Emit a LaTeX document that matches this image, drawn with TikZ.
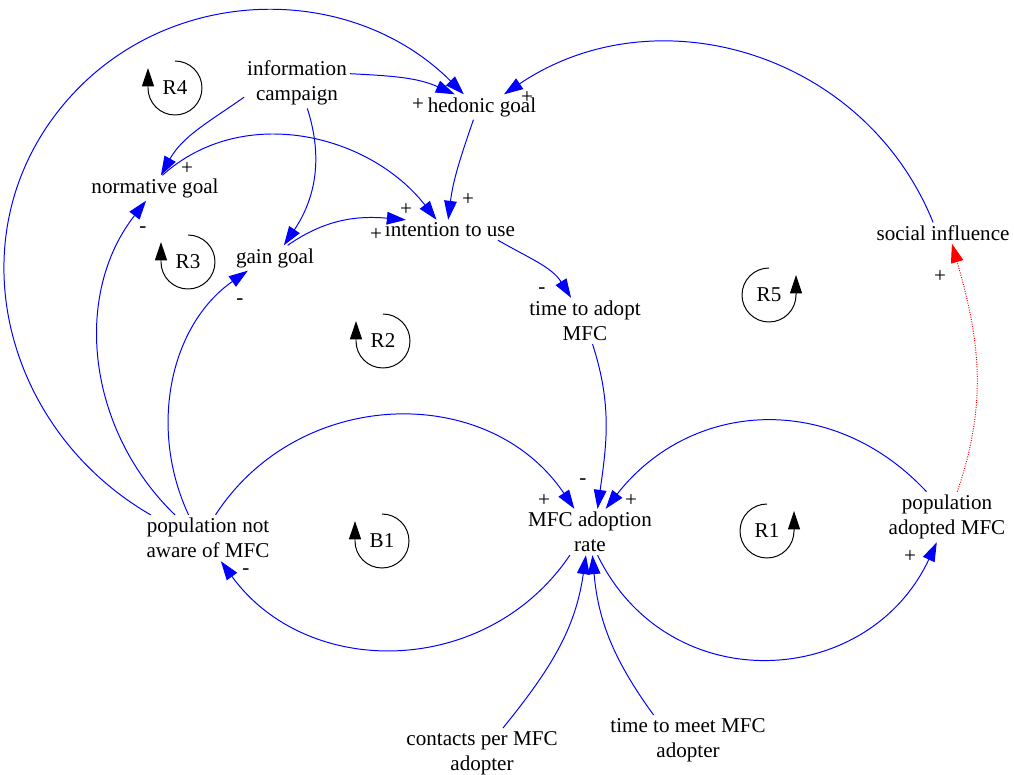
\documentclass[tikz,border=0pt]{standalone}
\usepackage{fontspec}
\setmainfont{Liberation Serif}
\usetikzlibrary{arrows.meta}

\begin{document}
\begin{tikzpicture}[font=\fontsize{15}{18}\selectfont,
  var/.style={align=center,inner sep=2pt},
  sgn/.style={inner sep=0pt},
  link/.style={blue,line width=0.7pt,-{Triangle[length=13.5pt,width=9pt]}},
  infl/.style={red,line width=0.7pt,densely dotted,-{Triangle[length=13.5pt,width=9pt]}},
  loopmark/.style={line width=0.7pt,-{Triangle[length=13pt,width=8.5pt]}}]

  \useasboundingbox (0,0) rectangle (25.35,-19.375);

  % variables
  \node[var] (info) at (7.425,-2.075) {information\\campaign};
  \node[var] (hed) at (12.05,-2.675) {hedonic goal};
  \node[var] (norm) at (3.875,-4.7) {normative goal};
  \node[var] (gain) at (6.875,-6.45) {gain goal};
  \node[var] (intent) at (11.25,-5.75) {intention to use};
  \node[var] (tadopt) at (14.625,-8.025) {time to adopt\\MFC};
  \node[var] (social) at (23.575,-5.825) {social influence};
  \node[var] (rate) at (14.75,-13.3) {MFC adoption\\rate};
  \node[var] (pna) at (5.2,-13.45) {population not\\aware of MFC};
  \node[var] (padopt) at (23.675,-12.925) {population\\adopted MFC};
  \node[var] (contacts) at (12.05,-18.825) {contacts per MFC\\adopter};
  \node[var] (tmeet) at (17.2,-18.5) {time to meet MFC\\adopter};
  \coordinate (outer) at (1.4,-2.85); % far point of the big R4 arc

  % links
  \path[link] (info.10) edge[out=-3,in=156] (hed.155);
  \path[link] (info.195) edge[out=215,in=61] (norm.65);
  \path[link] (info.-68) edge[out=-72,in=56] (gain.55);
  \path[link] (norm.60) edge[out=42,in=128] (intent.143);
  \path[link] (gain.45) edge[out=35,in=175] (intent.167);
  \path[link] (hed.236) edge[out=251,in=83] (intent.100);
  \draw[link] (pna.158) to[out=150,in=232.7,looseness=1.03] (outer)
    to[out=52.7,in=135,looseness=1.03] (hed.145);
  \path[link] (social.133) edge[out=112,in=34,looseness=1.05] (hed.30);
  \path[link] (pna.145) edge[out=136,in=232,looseness=0.98] (norm.235);
  \path[link] (pna.130) edge[out=115,in=215,looseness=0.97] (gain.205);
  \path[link] (pna.72) edge[out=57,in=124,looseness=1.09] (rate.124);
  \path[link] (tadopt.-72) edge[out=-72,in=82] (rate.72);
  \path[link] (padopt.129) edge[out=133,in=52,looseness=1.1] (rate.56);
  \path[link] (rate.229) edge[out=236,in=-54,looseness=1.08] (pna.-61);
  \path[link] (rate.-72) edge[out=-64,in=245,looseness=1.22] (padopt.248);
  \path[link] (contacts.50) edge[out=51,in=262] (rate.260);
  \path[link] (tmeet.144) edge[out=126,in=275] (rate.-84);
  \path[link] (intent.-12) edge[out=-30,in=122] (tadopt.121);
  \path[infl] (padopt.68) edge[out=71,in=286] (social.-50);

  % polarities
  \node[sgn] (hedplusA) at (10.45,-2.625) {+};
  \node[sgn] (hedplusB) at (13.175,-2.45) {+};
  \node[sgn] (normplus) at (4.675,-4.225) {+};
  \node[sgn] (normminus) at (3.575,-5.75) {-};
  \node[sgn] (gainminus) at (6.0,-7.55) {-};
  \node[sgn] (intplusA) at (10.15,-5.25) {+};
  \node[sgn] (intplusB) at (11.7,-5.0) {+};
  \node[sgn] (intplusC) at (9.4,-5.875) {+};
  \node[sgn] (tadminus) at (13.55,-7.275) {-};
  \node[sgn] (rateminus) at (14.575,-12.05) {-};
  \node[sgn] (rateplusA) at (13.6,-12.525) {+};
  \node[sgn] (rateplusB) at (15.775,-12.525) {+};
  \node[sgn] (pnaminus) at (6.15,-14.3) {-};
  \node[sgn] (padplus) at (22.75,-13.925) {+};
  \node[sgn] (socplus) at (23.5,-6.925) {+};

  % loop markers
  \node (r4) at (4.375,-2.2) {R4};
  \draw[loopmark] (r4.center) ++(0,0.675) arc[start angle=90,end angle=-180,radius=0.675] -- ++(0,0.5);
  \node (r3) at (4.7,-6.55) {R3};
  \draw[loopmark] (r3.center) ++(0,0.675) arc[start angle=90,end angle=-180,radius=0.675] -- ++(0,0.5);
  \node (r2) at (9.575,-8.525) {R2};
  \draw[loopmark] (r2.center) ++(0,0.675) arc[start angle=90,end angle=-180,radius=0.675] -- ++(0,0.5);
  \node (b1) at (9.55,-13.525) {B1};
  \draw[loopmark] (b1.center) ++(0,0.675) arc[start angle=90,end angle=-180,radius=0.675] -- ++(0,0.5);
  \node (r1) at (19.175,-13.275) {R1};
  \draw[loopmark] (r1.center) ++(0,0.675) arc[start angle=90,end angle=360,radius=0.675] -- ++(0,0.5);
  \node (r5) at (19.225,-7.375) {R5};
  \draw[loopmark] (r5.center) ++(0,0.675) arc[start angle=90,end angle=360,radius=0.675] -- ++(0,0.5);
\end{tikzpicture}
\end{document}
